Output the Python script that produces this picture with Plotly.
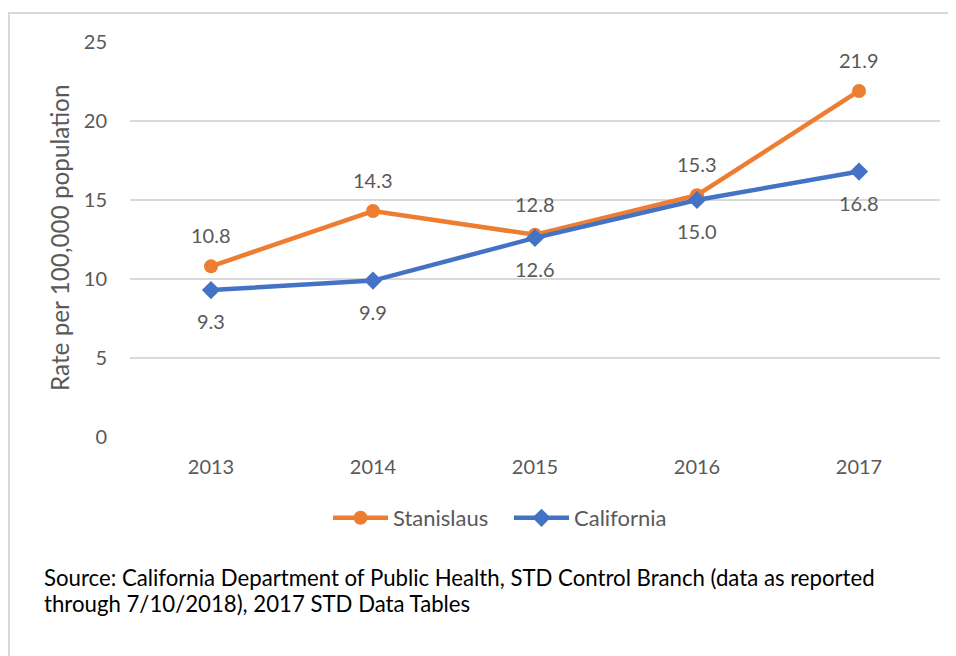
import plotly.graph_objects as go

years = ["2013", "2014", "2015", "2016", "2017"]
stanislaus = [10.8, 14.3, 12.8, 15.3, 21.9]
california = [9.3, 9.9, 12.6, 15.0, 16.8]
y_ticks = [0, 5, 10, 15, 20, 25]

# page has an 8px body margin; figure coordinates = page coordinates - 8
OFF = 8
W, H = 956 - OFF, 656 - OFF
L, T = 130 - OFF, 42 - OFF
R, B = W - (940 - OFF), H - (437 - OFF)
pw, ph = W - L - R, H - T - B

def px_x(x):  # page x -> paper
    return (x - OFF - L) / pw

def px_y(y):  # page y -> paper
    return (H - B - (y - OFF)) / ph

FONT = "Lato"
GREY = "#595959"
ORANGE = "#ED7D31"
BLUE = "#4472C4"

fig = go.Figure()
fig.add_trace(go.Scatter(
    x=years, y=stanislaus, name="Stanislaus", mode="lines+markers",
    line=dict(color=ORANGE, width=4.5),
    marker=dict(symbol="circle", size=14, color=ORANGE),
))
fig.add_trace(go.Scatter(
    x=years, y=california, name="California", mode="lines+markers",
    line=dict(color=BLUE, width=4.5),
    marker=dict(symbol="diamond", size=14, color=BLUE),
))

annotations = []
for i, yv in enumerate(stanislaus):
    annotations.append(dict(x=i, y=yv, xref="x", yref="y", text=f"{yv:.1f}",
                            showarrow=False, yshift=31,
                            font=dict(family=FONT, size=20, color=GREY)))
for i, yv in enumerate(california):
    annotations.append(dict(x=i, y=yv, xref="x", yref="y", text=f"{yv:.1f}",
                            showarrow=False, yshift=-31,
                            font=dict(family=FONT, size=20, color=GREY)))

annotations.append(dict(x=px_x(59), y=px_y(238), xref="paper", yref="paper",
                        text="Rate per 100,000 population", textangle=-90,
                        showarrow=False, xanchor="center", yanchor="middle",
                        font=dict(family=FONT, size=24.3, color=GREY)))
source_lines = ["Source: California Department of Public Health, STD Control Branch (data as reported",
                "through 7/10/2018), 2017 STD Data Tables"]
for line, yc in zip(source_lines, [577, 603]):
    annotations.append(dict(x=px_x(42), y=px_y(yc), xref="paper", yref="paper",
                            text=line, showarrow=False, xanchor="left", yanchor="middle",
                            align="left",
                            font=dict(family=FONT, size=22.2, color="#000000")))

fig.update_layout(
    width=W, height=H,
    margin=dict(l=L, r=R, t=T, b=B, autoexpand=False),
    paper_bgcolor="white", plot_bgcolor="white",
    font=dict(family=FONT, size=20, color=GREY),
    showlegend=True,
    legend=dict(orientation="h", x=px_x(328), y=px_y(497), xanchor="left", yanchor="top",
                font=dict(family=FONT, size=22, color=GREY),
                itemwidth=55, entrywidth=111, entrywidthmode="pixels", tracegroupgap=0),
    annotations=annotations,
    shapes=[dict(type="rect", xref="paper", yref="paper",
                 x0=px_x(9), x1=px_x(980), y0=px_y(13), y1=px_y(690),
                 line=dict(color="#d9d9d9", width=2), layer="below")],
)
fig.update_xaxes(type="category", range=[-0.5, 4.5], autorange=False,
                 showgrid=False, zeroline=False, showline=False,
                 ticks="", ticklabelstandoff=16,
                 tickfont=dict(family=FONT, size=20, color=GREY))
fig.update_yaxes(range=[0, 25], autorange=False, tickvals=y_ticks, showgrid=True,
                 gridcolor="#d9d9d9", gridwidth=1.5, zeroline=False, showline=False,
                 ticks="", ticklabelstandoff=22,
                 tickfont=dict(family=FONT, size=20, color=GREY))

fig.write_html("out.html")
